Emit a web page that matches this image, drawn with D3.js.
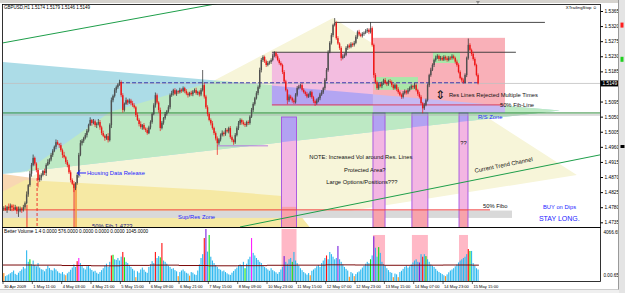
<!DOCTYPE html>
<html>
<head>
<meta charset="utf-8">
<script src="https://cdn.jsdelivr.net/npm/d3@7"></script>
<style>
  body { margin: 0; background: #fff; }
  svg { display: block; font-family: "Liberation Sans", Arial, sans-serif; }
</style>
</head>
<body>
<div id="chart"></div>
<script>
// GBPUSD H1, 30 Apr - 15 May 2009

const opens = [
  1.4775,1.4778,1.4772,1.4781,1.4776,1.4785,1.4779,1.4774,1.4780,1.4768,
  1.4770,1.4776,1.4771,1.4780,1.4792,1.4818,1.4846,1.4880,1.4906,1.4927,
  1.4910,1.4891,1.4861,1.4868,1.4876,1.4888,1.4882,1.4906,1.4915,1.4922,
  1.4936,1.4948,1.4960,1.4974,1.4968,1.4965,1.4950,1.4936,1.4929,1.4915,
  1.4906,1.4884,1.4861,1.4850,1.4837,1.4852,1.4876,1.4936,1.4971,1.4978,
  1.4986,1.4995,1.5008,1.5025,1.5040,1.5031,1.5036,1.5025,1.5029,1.5034,
  1.5018,1.5001,1.4993,1.4986,1.4992,1.4980,1.5025,1.5099,1.5112,1.5129,
  1.5138,1.5146,1.5153,1.5114,1.5070,1.5088,1.5099,1.5092,1.5098,1.5090,
  1.5084,1.5078,1.5055,1.5040,1.5028,1.5019,1.5025,1.5014,1.5010,1.5001,
  1.5018,1.5034,1.5058,1.5084,1.5114,1.5092,1.5070,1.5016,1.5032,1.5046,
  1.5058,1.5066,1.5078,1.5114,1.5120,1.5129,1.5118,1.5126,1.5123,1.5130,
  1.5127,1.5135,1.5126,1.5119,1.5114,1.5121,1.5117,1.5125,1.5129,1.5120,
  1.5123,1.5116,1.5129,1.5144,1.5110,1.5078,1.5058,1.5040,1.5030,1.5016,
  1.5001,1.4985,1.4971,1.4982,1.4995,1.5002,1.4998,1.5010,1.5006,1.5016,
  1.4989,1.4980,1.4974,1.4995,1.5016,1.5030,1.5040,1.5033,1.5028,1.5025,
  1.5034,1.5031,1.5050,1.5070,1.5088,1.5105,1.5120,1.5138,1.5189,1.5219,
  1.5228,1.5215,1.5204,1.5210,1.5213,1.5219,1.5232,1.5240,1.5230,1.5219,
  1.5210,1.5204,1.5183,1.5155,1.5129,1.5099,1.5110,1.5105,1.5098,1.5093,
  1.5115,1.5135,1.5140,1.5144,1.5130,1.5123,1.5118,1.5110,1.5114,1.5123,
  1.5108,1.5096,1.5090,1.5098,1.5105,1.5116,1.5123,1.5135,1.5160,1.5189,
  1.5243,1.5270,1.5293,1.5323,1.5329,1.5284,1.5268,1.5255,1.5225,1.5230,
  1.5234,1.5255,1.5262,1.5258,1.5267,1.5264,1.5270,1.5288,1.5303,1.5295,
  1.5291,1.5297,1.5300,1.5305,1.5309,1.5302,1.5314,1.5264,1.5174,1.5153,
  1.5135,1.5146,1.5141,1.5150,1.5159,1.5150,1.5147,1.5156,1.5153,1.5144,
  1.5135,1.5144,1.5132,1.5123,1.5115,1.5109,1.5120,1.5126,1.5122,1.5129,
  1.5135,1.5141,1.5138,1.5144,1.5129,1.5118,1.5109,1.5090,1.5075,1.5085,
  1.5099,1.5144,1.5174,1.5190,1.5204,1.5219,1.5226,1.5231,1.5222,1.5225,
  1.5220,1.5228,1.5224,1.5219,1.5226,1.5225,1.5230,1.5225,1.5214,1.5204,
  1.5183,1.5165,1.5158,1.5153,1.5174,1.5225,1.5264,1.5249,1.5237,1.5222,
  1.5204,1.5174
];
const highs = [
  1.4783,1.4786,1.4784,1.4791,1.4791,1.4789,1.4788,1.4787,1.4783,1.4782,
  1.4782,1.4780,1.4787,1.4797,1.4827,1.4849,1.4888,1.4912,1.4937,1.4931,
  1.4914,1.4897,1.4877,1.4881,1.4891,1.4895,1.4911,1.4923,1.4926,1.4942,
  1.4953,1.4964,1.4982,1.4980,1.4971,1.4972,1.4955,1.4945,1.4933,1.4921,
  1.4910,1.4890,1.4866,1.4858,1.4855,1.4883,1.4942,1.4980,1.4983,1.4990,
  1.5001,1.5013,1.5029,1.5048,1.5043,1.5043,1.5041,1.5033,1.5043,1.5040,
  1.5023,1.5008,1.4997,1.4998,1.5001,1.5030,1.5107,1.5116,1.5135,1.5143,
  1.5150,1.5160,1.5158,1.5120,1.5092,1.5107,1.5102,1.5104,1.5103,1.5097,
  1.5090,1.5082,1.5062,1.5045,1.5036,1.5028,1.5031,1.5018,1.5017,1.5023,
  1.5039,1.5062,1.5090,1.5122,1.5119,1.5096,1.5077,1.5037,1.5049,1.5064,
  1.5070,1.5084,1.5119,1.5127,1.5133,1.5135,1.5131,1.5129,1.5136,1.5134,
  1.5140,1.5139,1.5132,1.5124,1.5124,1.5127,1.5129,1.5134,1.5136,1.5127,
  1.5128,1.5135,1.5189,1.5151,1.5115,1.5084,1.5062,1.5045,1.5037,1.5020,
  1.5006,1.4991,1.4986,1.5000,1.5009,1.5006,1.5016,1.5015,1.5020,1.5022,
  1.4994,1.4984,1.5001,1.5021,1.5037,1.5045,1.5044,1.5039,1.5033,1.5038,
  1.5039,1.5054,1.5076,1.5093,1.5109,1.5126,1.5143,1.5196,1.5225,1.5233,
  1.5232,1.5220,1.5216,1.5217,1.5224,1.5238,1.5245,1.5244,1.5236,1.5224,
  1.5215,1.5208,1.5189,1.5160,1.5133,1.5116,1.5115,1.5109,1.5104,1.5120,
  1.5141,1.5145,1.5148,1.5150,1.5135,1.5127,1.5124,1.5119,1.5127,1.5128,
  1.5112,1.5101,1.5104,1.5109,1.5121,1.5129,1.5139,1.5165,1.5195,1.5248,
  1.5275,1.5299,1.5327,1.5344,1.5334,1.5290,1.5272,1.5260,1.5236,1.5239,
  1.5260,1.5266,1.5268,1.5272,1.5271,1.5276,1.5293,1.5307,1.5309,1.5300,
  1.5302,1.5304,1.5311,1.5314,1.5313,1.5332,1.5319,1.5268,1.5180,1.5158,
  1.5150,1.5152,1.5155,1.5163,1.5165,1.5155,1.5160,1.5162,1.5158,1.5148,
  1.5149,1.5148,1.5138,1.5128,1.5119,1.5126,1.5131,1.5130,1.5135,1.5140,
  1.5146,1.5145,1.5150,1.5149,1.5133,1.5124,1.5114,1.5094,1.5091,1.5104,
  1.5149,1.5178,1.5196,1.5209,1.5223,1.5232,1.5236,1.5235,1.5231,1.5230,
  1.5233,1.5232,1.5230,1.5231,1.5230,1.5236,1.5235,1.5229,1.5220,1.5209,
  1.5188,1.5169,1.5164,1.5179,1.5229,1.5283,1.5269,1.5253,1.5243,1.5227,
  1.5208,1.5179
];
const lows = [
  1.4769,1.4769,1.4763,1.4772,1.4769,1.4768,1.4769,1.4771,1.4760,1.4751,
  1.4765,1.4763,1.4767,1.4774,1.4789,1.4811,1.4841,1.4871,1.4902,1.4904,
  1.4884,1.4839,1.4856,1.4860,1.4872,1.4876,1.4873,1.4903,1.4908,1.4917,
  1.4930,1.4944,1.4953,1.4965,1.4957,1.4945,1.4927,1.4925,1.4909,1.4899,
  1.4879,1.4854,1.4846,1.4825,1.4831,1.4847,1.4868,1.4932,1.4964,1.4972,
  1.4982,1.4988,1.5003,1.5022,1.5023,1.5027,1.5019,1.5016,1.5024,1.5011,
  1.4995,1.4989,1.4978,1.4981,1.4973,1.4976,1.5016,1.5093,1.5107,1.5121,
  1.5133,1.5142,1.5108,1.5062,1.5065,1.5085,1.5085,1.5088,1.5084,1.5079,
  1.5074,1.5049,1.5037,1.5021,1.5014,1.5011,1.5010,1.5004,1.4996,1.4998,
  1.5012,1.5029,1.5054,1.5077,1.5087,1.5062,1.5007,1.5012,1.5026,1.5041,
  1.5053,1.5062,1.5072,1.5109,1.5113,1.5114,1.5112,1.5118,1.5119,1.5121,
  1.5123,1.5120,1.5114,1.5107,1.5110,1.5112,1.5111,1.5121,1.5115,1.5114,
  1.5110,1.5111,1.5125,1.5104,1.5073,1.5051,1.5036,1.5024,1.5011,1.4995,
  1.4979,1.4936,1.4966,1.4976,1.4991,1.4991,1.4993,1.5002,1.5000,1.4984,
  1.4974,1.4966,1.4969,1.4991,1.5010,1.5025,1.5026,1.5024,1.5019,1.5020,
  1.5025,1.5026,1.5046,1.5064,1.5083,1.5101,1.5114,1.5133,1.5182,1.5213,
  1.5210,1.5198,1.5200,1.5205,1.5207,1.5215,1.5227,1.5224,1.5215,1.5205,
  1.5200,1.5177,1.5150,1.5125,1.5087,1.5094,1.5101,1.5092,1.5088,1.5089,
  1.5110,1.5131,1.5134,1.5125,1.5119,1.5112,1.5105,1.5106,1.5108,1.5103,
  1.5090,1.5082,1.5086,1.5093,1.5099,1.5112,1.5118,1.5129,1.5156,1.5184,
  1.5239,1.5265,1.5287,1.5319,1.5279,1.5264,1.5249,1.5217,1.5221,1.5225,
  1.5230,1.5249,1.5253,1.5254,1.5258,1.5259,1.5266,1.5282,1.5290,1.5287,
  1.5286,1.5291,1.5296,1.5300,1.5296,1.5298,1.5259,1.5166,1.5147,1.5130,
  1.5130,1.5137,1.5135,1.5145,1.5146,1.5141,1.5142,1.5149,1.5138,1.5130,
  1.5131,1.5126,1.5118,1.5111,1.5103,1.5104,1.5116,1.5116,1.5117,1.5125,
  1.5131,1.5132,1.5133,1.5125,1.5112,1.5104,1.5086,1.5060,1.5070,1.5081,
  1.5095,1.5138,1.5169,1.5186,1.5198,1.5214,1.5222,1.5216,1.5217,1.5216,
  1.5216,1.5218,1.5214,1.5215,1.5219,1.5220,1.5221,1.5208,1.5199,1.5179,
  1.5161,1.5152,1.5148,1.5149,1.5168,1.5220,1.5245,1.5231,1.5217,1.5200,
  1.5170,1.5146
];
const closes = [
  1.4778,1.4772,1.4781,1.4776,1.4785,1.4779,1.4774,1.4780,1.4768,1.4770,
  1.4776,1.4771,1.4780,1.4792,1.4818,1.4846,1.4880,1.4906,1.4927,1.4910,
  1.4891,1.4861,1.4868,1.4876,1.4888,1.4882,1.4906,1.4915,1.4922,1.4936,
  1.4948,1.4960,1.4974,1.4968,1.4965,1.4950,1.4936,1.4929,1.4915,1.4906,
  1.4884,1.4861,1.4850,1.4837,1.4852,1.4876,1.4936,1.4971,1.4978,1.4986,
  1.4995,1.5008,1.5025,1.5040,1.5031,1.5036,1.5025,1.5029,1.5034,1.5018,
  1.5001,1.4993,1.4986,1.4992,1.4980,1.5025,1.5099,1.5112,1.5129,1.5138,
  1.5146,1.5153,1.5114,1.5070,1.5088,1.5099,1.5092,1.5098,1.5090,1.5084,
  1.5078,1.5055,1.5040,1.5028,1.5019,1.5025,1.5014,1.5010,1.5001,1.5018,
  1.5034,1.5058,1.5084,1.5114,1.5092,1.5070,1.5016,1.5032,1.5046,1.5058,
  1.5066,1.5078,1.5114,1.5120,1.5129,1.5118,1.5126,1.5123,1.5130,1.5127,
  1.5135,1.5126,1.5119,1.5114,1.5121,1.5117,1.5125,1.5129,1.5120,1.5123,
  1.5116,1.5129,1.5144,1.5110,1.5078,1.5058,1.5040,1.5030,1.5016,1.5001,
  1.4985,1.4971,1.4982,1.4995,1.5002,1.4998,1.5010,1.5006,1.5016,1.4989,
  1.4980,1.4974,1.4995,1.5016,1.5030,1.5040,1.5033,1.5028,1.5025,1.5034,
  1.5031,1.5050,1.5070,1.5088,1.5105,1.5120,1.5138,1.5189,1.5219,1.5228,
  1.5215,1.5204,1.5210,1.5213,1.5219,1.5232,1.5240,1.5230,1.5219,1.5210,
  1.5204,1.5183,1.5155,1.5129,1.5099,1.5110,1.5105,1.5098,1.5093,1.5115,
  1.5135,1.5140,1.5144,1.5130,1.5123,1.5118,1.5110,1.5114,1.5123,1.5108,
  1.5096,1.5090,1.5098,1.5105,1.5116,1.5123,1.5135,1.5160,1.5189,1.5243,
  1.5270,1.5293,1.5323,1.5329,1.5284,1.5268,1.5255,1.5225,1.5230,1.5234,
  1.5255,1.5262,1.5258,1.5267,1.5264,1.5270,1.5288,1.5303,1.5295,1.5291,
  1.5297,1.5300,1.5305,1.5309,1.5302,1.5314,1.5264,1.5174,1.5153,1.5135,
  1.5146,1.5141,1.5150,1.5159,1.5150,1.5147,1.5156,1.5153,1.5144,1.5135,
  1.5144,1.5132,1.5123,1.5115,1.5109,1.5120,1.5126,1.5122,1.5129,1.5135,
  1.5141,1.5138,1.5144,1.5129,1.5118,1.5109,1.5090,1.5075,1.5085,1.5099,
  1.5144,1.5174,1.5190,1.5204,1.5219,1.5226,1.5231,1.5222,1.5225,1.5220,
  1.5228,1.5224,1.5219,1.5226,1.5225,1.5230,1.5225,1.5214,1.5204,1.5183,
  1.5165,1.5158,1.5153,1.5174,1.5225,1.5264,1.5249,1.5237,1.5222,1.5204,
  1.5174,1.5149
];

// Better Volume
const volumes = [
  620,380,450,520,610,700,820,560,480,650,
  780,900,1100,980,2400,1500,1700,1300,1600,1250,
  1150,1400,1050,920,880,760,950,1200,1020,870,
  820,1000,900,760,640,580,700,520,450,600,
  720,880,1050,1300,1100,1550,1800,1400,1200,1000,
  900,1150,1250,980,860,740,800,650,560,700,
  850,1000,1200,1350,1100,1500,2000,2050,1700,1650,
  1800,1600,1900,2270,1850,1500,1400,1250,1100,950,
  820,300,760,650,900,1050,880,720,640,1100,
  1300,1550,1400,2270,1800,1950,1850,2970,1600,1500,
  1350,1200,1100,950,1000,850,760,380,700,820,
  900,760,640,580,420,700,650,520,480,820,
  1300,1800,2100,3360,4066,2300,3600,1900,1600,1400,
  1250,1100,950,880,760,820,700,600,520,480,
  650,780,920,1050,1200,1300,1250,1500,1000,1350,
  1700,1900,3360,2200,2000,1800,1650,1500,1400,1200,
  1100,1000,900,800,1000,850,760,680,560,700,
  900,1100,1950,1500,1350,1700,1800,1500,2270,1600,
  1400,1200,1000,850,700,600,500,620,450,800,
  900,1000,1150,1250,1100,1400,1600,1800,2000,1700,
  2270,2100,1900,1700,1800,2740,1700,1500,1300,1100,
  950,820,330,700,600,380,540,680,750,900,
  1050,1200,1350,1500,1400,1700,2000,3500,2600,1900,
  2650,2200,1500,1300,1200,1000,850,700,640,300,
  580,520,300,700,800,950,1100,1200,1050,1150,
  1300,1450,1600,1700,1500,1450,2100,1900,2100,1950,
  1700,1500,1300,1200,1100,950,800,700,620,540,
  450,380,520,680,820,900,1000,1150,1300,1450,
  1600,1700,1800,1900,2100,2500,2350,2350,1400,1200,
  1000,900
];
// b normal, o low, r climax up, g churn, m climax churn, p low churn
const volumeTypes =
  "obbbbbbbbb" + "bbbbbbgbbb" + "bbbbbbbbbb" + "bbbbbbbbob" + "bbbbbrmbbb" +
  "bbbbbbbbbb" + "bbbbbbrgbb" + "bbbrgbbbbb" + "bobbbbbbbb" + "bbbrbbgrbb" +
  "bbbbbbbobb" + "bbbbobbbbb" + "bbbrpbgbbb" + "bbbbbbbbbb" + "bbbbbbbbgb" +
  "bbmbbbbbbb" + "bbbbbbbbbb" + "bbpbbbbgbb" + "bbbbbbbbob" + "bbbbbbbbrb" +
  "bbbbbpbbbb" + "bbobbobbbb" + "bbbbbgbpbb" + "gbbbbbbbbo" + "bbobbbbbbb" +
  "bbbbbpbrbg" + "bbbbbbbbbb" + "bobbbbbbbb" + "bbbbbrgbbb" + "bb";
const volumeAverage = [1250,1240,1210,1190,1220,1240,1210,1190,1200,1230,1240,1260,1250,1230,1240,1250,1240];

// 1.5140 sits under the current-price box, so it is not printed
const priceTicks = [1.4735,1.4780,1.4825,1.4870,1.4915,1.4960,1.5005,1.5050,1.5095,1.5185,1.5230,1.5275,1.5320,1.5365];
const timeTicks = [0,18,36,54,72,90,108,126,144,162,180,198,216,234,252,270,288];
const timeLabels = ["30 Apr 2009","1 May 11:00","4 May 03:00","4 May 21:00","5 May 15:00","6 May 09:00",
  "6 May 21:00","7 May 15:00","8 May 09:00","10 May 23:00","11 May 15:00","12 May 07:00",
  "12 May 23:00","13 May 15:00","14 May 07:00","14 May 23:00","15 May 15:00"];

// drawn objects, as [bar index, price]
const creamFan = [[202.5,1.5344],[352.1,1.4876],[0,1.4605],[0,1.4827]];
const blueFan = [[0,1.5213],[341.7,1.5068],[0,1.4879]];
const greenFan = [[13.5,1.4885],[65.6,1.5064],[130.1,1.5156],[165,1.5144],[341.7,1.5068],[0,1.4879]];
const peachFan = [[0,1.4879],[22.7,1.4864],[0,1.4825]];
const yellowFan = [[0,1.4827],[13.5,1.4861],[127,1.4831],[173,1.4813],[194.5,1.4682],[0,1.4682]];
const supResZone = [0, 312.3, 1.4748, 1.4770];
const pinkBox = [165, 227, 1.5084, 1.5242];
const salmonBox = [227, 308, 1.5061, 1.5285];
const greenBoxes = [[228.2, 254.6, 1.5130, 1.5168], [263.8, 280.4, 1.5210, 1.5242]];
const volZones = [[170.9, 180.1], [227, 234.4], [250.9, 260.7], [279.8, 285.3]];
const volZoneTop = [1.5049, 1.5061, 1.5061, 1.5061];
const volZoneLow = [1.4781, 1.4772, 1.4772, 1.4772];
const volZoneVolTop = [4066.65, 3600, 3600, 3600];
const resLines = [[1.5331, 203.7, 332.5], [1.5242, 165, 314.7]];
const dashLine = [1.5151, 71.8, 291.4];
const fibLine = [1.5085, 165, 306.7];
const srLine = [1.5061, 0, 366.3];
const srLine2 = [1.5055, 0, 366.3];
const lowLine = [1.4963, 131.3, 162.6];
const fiboLow = [1.4772, 0, 298.8];
const channel = [[[0, 1.5270], [366.3, 1.5596]], [[145.4, 1.4721], [366.3, 1.4936]]];
const spikes = [[14.7, 1.4787], [20.9, 1.4867], [43.6, 1.4837], [44.8, 1.4852]];
const notes = [
  ["Housing Data Release", 51.5, 1.4876],
  ["Sup/Res Zone", 107.4, 1.4746],
  ["50%  Fib  1.4723", 54.6, 1.4717],
  ["NOTE: Increased Vol around Res. Lines", 219.6, 1.4924],
  ["Protected Area?", 222, 1.4885],
  ["Large Options/Positions???", 220.2, 1.4849],
  ["??", 282.5, 1.4966],
  ["R/S Zone", 291.4, 1.5043],
  ["50% Fibo", 294.5, 1.4778],
  ["BUY on Dips", 331.3, 1.4775],
  ["Res Lines  Rejected Multiple Times", 273.6, 1.5109],
  ["50% Fib-Line", 304.9, 1.5079]
];

// ---- scales
const x = d3.scaleLinear().domain([0, 366.3]).range([3, 600]);
const y = d3.scaleLinear().domain([1.4735, 1.5365]).range([222.3, 11]);
const yv = d3.scaleLinear().domain([0, 4066.65]).range([281, 229]);
const P = d => [x(d[0]), y(d[1])];
const poly = pts => "M" + pts.map(d => P(d).join(",")).join("L") + "Z";
const boxAttrs = (sel, b) => sel.attr("x", x(b[0])).attr("y", y(b[3]))
  .attr("width", x(b[1]) - x(b[0])).attr("height", y(b[2]) - y(b[3]));

const svg = d3.select("#chart").append("svg").attr("width", 625).attr("height", 293);
svg.append("rect").attr("width", 625).attr("height", 293).attr("fill", "#fff");
svg.append("rect").attr("width", 625).attr("height", 3).attr("fill", "#d6d3ce");

const defs = svg.append("defs");
defs.append("clipPath").attr("id", "mainClip").append("rect")
  .attr("x", 3).attr("y", 4.5).attr("width", 597).attr("height", 222.5);
defs.append("clipPath").attr("id", "volClip").append("rect")
  .attr("x", 3).attr("y", 228).attr("width", 597).attr("height", 53);
boxAttrs(defs.append("clipPath").attr("id", "pinkClip").append("rect"), pinkBox);
boxAttrs(defs.append("clipPath").attr("id", "salmonClip").append("rect"), salmonBox);
const zc = defs.append("clipPath").attr("id", "zoneClip");
volZones.forEach((z, k) => boxAttrs(zc.append("rect"), [z[0], z[1], 1.46, volZoneTop[k]]));

// ---- main panel
const main = svg.append("g").attr("clip-path", "url(#mainClip)");
main.append("path").attr("d", poly(creamFan)).attr("fill", "#f7f5d9");
main.append("path").attr("d", poly(blueFan)).attr("fill", "#acdce7");
main.append("path").attr("d", poly(greenFan)).attr("fill", "#bde9c4");
main.append("path").attr("d", poly(peachFan)).attr("fill", "#f8d7b2");
main.append("path").attr("d", poly(yellowFan)).attr("fill", "#f6e9a4");
boxAttrs(main.append("rect"), supResZone).attr("fill", "#d9d9d9");

boxAttrs(main.append("rect"), pinkBox).attr("fill", "#f3bde0");
main.append("path").attr("d", poly(blueFan)).attr("fill", "#b3a5f2").attr("clip-path", "url(#pinkClip)");
boxAttrs(main.append("rect"), salmonBox).attr("fill", "#f9b0b8");
main.append("path").attr("d", poly(blueFan)).attr("fill", "#c7b9f2").attr("clip-path", "url(#salmonClip)");
greenBoxes.forEach(b => boxAttrs(main.append("rect"), b).attr("fill", "#a9e7a9"));

volZones.forEach((z, k) => {
  boxAttrs(main.append("rect"), [z[0], z[1], 1.46, volZoneTop[k]]).attr("fill", "#f3b6e2");
  boxAttrs(main.append("rect"), [z[0], z[1], 1.46, volZoneLow[k]]).attr("fill", "#f7a3ac");
});
main.append("path").attr("d", poly(blueFan)).attr("fill", "#b2a2f2").attr("clip-path", "url(#zoneClip)");
volZones.forEach((z, k) => {
  boxAttrs(main.append("rect"), [z[0], z[1], 1.46, volZoneTop[k]])
    .attr("fill", "none").attr("stroke", "#a24fe0").attr("stroke-width", 0.9);
});

const hline = (l, color, w, dash) => main.append("line")
  .attr("x1", x(l[1])).attr("x2", x(l[2])).attr("y1", y(l[0])).attr("y2", y(l[0]))
  .attr("stroke", color).attr("stroke-width", w).attr("stroke-dasharray", dash || null);
hline(srLine2, "#a8a8a8", 0.8);
hline(srLine, "#2f8a3a", 1);
hline([closes[closes.length - 1], 0, 366.3], "#c0c0c0", 0.8);
resLines.forEach(l => hline(l, "#333", 0.9));
hline(dashLine, "#2a2aa8", 0.9, "4,2");
hline(fibLine, "#d8304a", 0.9);
hline(lowLine, "#b070e0", 0.9);
hline(fiboLow, "#f04040", 1);

channel.forEach(c => main.append("line")
  .attr("x1", P(c[0])[0]).attr("y1", P(c[0])[1]).attr("x2", P(c[1])[0]).attr("y2", P(c[1])[1])
  .attr("stroke", "#1e9e4a").attr("stroke-width", 1));

spikes.forEach((s, k) => main.append("line")
  .attr("x1", x(s[0])).attr("x2", x(s[0])).attr("y1", y(s[1])).attr("y2", 230)
  .attr("stroke", k === 3 ? "#f59a40" : "#f02020")
  .attr("stroke-width", k === 3 ? 1.6 : 0.9)
  .attr("stroke-dasharray", k === 1 ? "3,2" : null));

// candles
const bars = main.append("g").selectAll("g").data(d3.range(closes.length)).join("g");
const isUp = i => closes[i] >= opens[i];
bars.append("line")
  .attr("x1", i => x(i + 0.5)).attr("x2", i => x(i + 0.5))
  .attr("y1", i => y(Math.max(highs[i], opens[i], closes[i])))
  .attr("y2", i => y(Math.min(lows[i], opens[i], closes[i])))
  .attr("stroke", i => isUp(i) ? "#222" : "#ee1515").attr("stroke-width", 0.7);
bars.append("rect")
  .attr("x", i => x(i + 0.5) - 0.7).attr("width", 1.4)
  .attr("y", i => y(Math.max(opens[i], closes[i])))
  .attr("height", i => Math.max(0.6, y(Math.min(opens[i], closes[i])) - y(Math.max(opens[i], closes[i]))))
  .attr("fill", i => isUp(i) ? "#505050" : "#ee1515");

// notes
const noteColors = ["#2424ff", "#2424ff", "#202080", "#111", "#111", "#111", "#111", "#2424ff", "#111", "#2424ff", "#111", "#111"];
notes.forEach((n, k) => main.append("text")
  .attr("x", x(n[1])).attr("y", y(n[2]))
  .attr("text-anchor", (k >= 3 && k <= 6) ? "middle" : "start")
  .attr("font-size", 5.8).attr("fill", noteColors[k]).text(n[0]));
main.append("text").attr("x", x(328.8)).attr("y", y(1.4739))
  .attr("font-size", 7).attr("fill", "#2424ff").text("STAY LONG.");
main.append("text")
  .attr("transform", `translate(${x(307.4)},${y(1.4900)}) rotate(-11.5)`)
  .attr("text-anchor", "middle").attr("font-size", 5.8).attr("fill", "#111")
  .text("Current Trend Channel");
// arrows
const ha = P([45.6, 1.4882]);
main.append("path")
  .attr("d", `M${x(51)},${ha[1]}L${ha[0]},${ha[1]}M${ha[0] + 3},${ha[1] - 2.8}L${ha[0]},${ha[1]}L${ha[0] + 3},${ha[1] + 2.8}`)
  .attr("stroke", "#2424ff").attr("stroke-width", 1).attr("fill", "none");
main.append("text").attr("x", x(268.1)).attr("y", y(1.5104))
  .attr("text-anchor", "middle").attr("font-family", "DejaVu Sans").attr("font-size", 12)
  .attr("fill", "#111").text("\u21D5");

main.append("text").attr("x", 4).attr("y", 9).attr("font-size", 4.5).attr("fill", "#000")
  .text(`GBPUSD,H1  ${opens[opens.length - 1].toFixed(4)} ${highs[highs.length - 1].toFixed(4)} ${lows[lows.length - 1].toFixed(4)} ${closes[closes.length - 1].toFixed(4)}`);
main.append("text").attr("x", 597).attr("y", 9).attr("text-anchor", "end").attr("font-size", 4.3)
  .attr("fill", "#000").text("XTrailingStop \u263A");

// ---- volume panel
const vol = svg.append("g").attr("clip-path", "url(#volClip)");
volZones.forEach((z, k) => vol.append("rect")
  .attr("x", x(z[0])).attr("width", x(z[1]) - x(z[0]))
  .attr("y", yv(volZoneVolTop[k])).attr("height", yv(0) - yv(volZoneVolTop[k]))
  .attr("fill", "#ffb8c6"));
const volColor = { b: "#2db8ef", o: "#ff8c1a", r: "#ff1010", g: "#10e010", m: "#ff20ff", p: "#7a20e0" };
vol.selectAll("rect.v").data(volumes).join("rect").attr("class", "v")
  .attr("x", (d, i) => x(i + 0.5) - 0.55).attr("width", 1.1)
  .attr("y", d => yv(d)).attr("height", d => yv(0) - yv(d))
  .attr("fill", (d, i) => volColor[volumeTypes[i]]);
const maPts = volumeAverage.map((v, k) => [timeTicks[k], v]);
maPts.push([volumes.length, volumeAverage[volumeAverage.length - 1]]);
vol.append("path")
  .attr("d", d3.line().x(d => x(d[0])).y(d => yv(d[1])).curve(d3.curveStepAfter)(maPts))
  .attr("fill", "none").attr("stroke", "#7b0a0a").attr("stroke-width", 1);
vol.append("text").attr("x", 4).attr("y", 233).attr("font-size", 4.7).attr("fill", "#000")
  .text("Better Volume 1.4 0.0000 576.0000 0.0000 0.0000 0.0000 1045.0000");

// ---- frames and axes
svg.append("rect").attr("x", 2.5).attr("y", 4.5).attr("width", 598).attr("height", 223)
  .attr("fill", "none").attr("stroke", "#000").attr("stroke-width", 0.8);
svg.append("rect").attr("x", 2.5).attr("y", 227.5).attr("width", 598).attr("height", 54)
  .attr("fill", "none").attr("stroke", "#000").attr("stroke-width", 0.8);

const yAxis = svg.append("g").attr("transform", "translate(600.5,0)")
  .call(d3.axisRight(y).tickValues(priceTicks).tickSize(2.5).tickPadding(1.5).tickFormat(d3.format(".4f")));
yAxis.select(".domain").remove();
yAxis.selectAll("text").attr("font-size", 4.8).attr("font-family", "Liberation Sans, Arial");
yAxis.selectAll("line").attr("stroke", "#000");

const vAxis = svg.append("g").attr("transform", "translate(600.5,0)")
  .call(d3.axisRight(yv).tickValues([4066.65, 0]).tickSize(0).tickPadding(3).tickFormat(d => d ? d.toFixed(2) : "0.00.65"));
vAxis.select(".domain").remove();
vAxis.selectAll("text").attr("font-size", 4.6).attr("font-family", "Liberation Sans, Arial")
  .attr("dy", (d, i) => i ? "-0.9em" : "0.9em");

// current price box
const cp = closes[closes.length - 1];
svg.append("rect").attr("x", 600.5).attr("y", y(cp) - 3).attr("width", 17.5).attr("height", 6).attr("fill", "#000");
svg.append("text").attr("x", 602.5).attr("y", y(cp) + 1.7).attr("font-size", 4.8).attr("fill", "#fff")
  .text(cp.toFixed(4));

// time axis
const tAxis = svg.append("g").attr("transform", "translate(0,281.5)");
timeTicks.forEach((t, k) => {
  tAxis.append("line").attr("x1", x(t)).attr("x2", x(t)).attr("y1", 0).attr("y2", 2.5).attr("stroke", "#000").attr("stroke-width", 0.6);
  tAxis.append("text").attr("x", x(t) + 1).attr("y", 6.6).attr("font-size", 4.1).attr("fill", "#000").text(timeLabels[k]);
});

// window edges
svg.append("rect").attr("x", 619).attr("y", 0).attr("width", 6).attr("height", 293).attr("fill", "#e4e4e4");
svg.append("line").attr("x1", 618.5).attr("x2", 618.5).attr("y1", 0).attr("y2", 293).attr("stroke", "#9a9a9a");
svg.append("rect").attr("x", 620.5).attr("y", y(1.5323) - 2.5).attr("width", 3).attr("height", 5).attr("fill", "#ff2020");
svg.append("rect").attr("x", 620.5).attr("y", y(1.5221) - 2.5).attr("width", 3).attr("height", 5).attr("fill", "#20d020");
svg.append("rect").attr("x", 620.5).attr("y", y(1.4961) - 1.5).attr("width", 4).attr("height", 3).attr("fill", "#000");
svg.append("rect").attr("x", 0).attr("y", 289.5).attr("width", 619).attr("height", 3.5).attr("fill", "#efefef");
svg.append("line").attr("x1", 0).attr("x2", 619).attr("y1", 289.5).attr("y2", 289.5).attr("stroke", "#b0b0b0").attr("stroke-width", 0.6);
svg.append("path").attr("d", `M${x(291.4) - 2},1L${x(291.4) + 2},1L${x(291.4)},4Z`).attr("fill", "#888");
</script>
</body>
</html>
